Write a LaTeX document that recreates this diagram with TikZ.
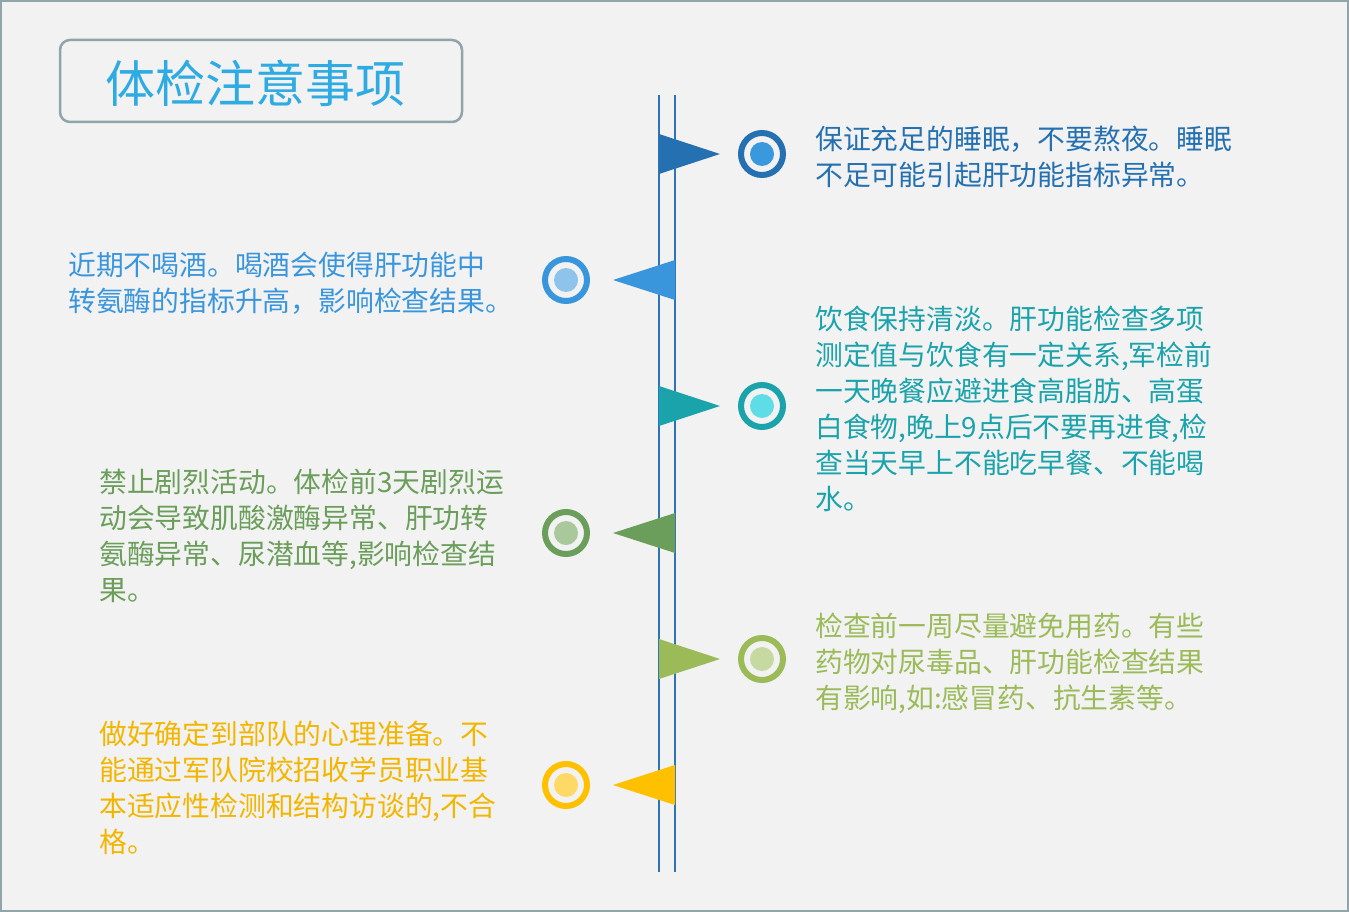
\documentclass[tikz,border=0pt]{standalone}
\usepackage{fontspec}
\setmainfont{Noto Sans CJK SC}
\begin{document}
\begin{tikzpicture}[x=1pt,y=-1pt,
  txt/.style={anchor=north west,inner sep=0pt,align=left,font=\fontsize{27.8}{36}\selectfont},
  ring/.style={circle,draw=#1,line width=6pt,minimum size=42pt,inner sep=0pt},
  dot/.style={circle,minimum size=24pt,inner sep=0pt}]
\definecolor{bg}{HTML}{F2F2F2}
\definecolor{frame}{HTML}{8FA5AA}
\definecolor{cA}{HTML}{2470B0}\definecolor{cAi}{HTML}{3A98DC}
\definecolor{cB}{HTML}{3A96DC}\definecolor{cBi}{HTML}{8EC3EC}
\definecolor{cC}{HTML}{1AA3AB}\definecolor{cCi}{HTML}{5EDDE6}
\definecolor{cD}{HTML}{6A9E5A}\definecolor{cDi}{HTML}{A9C89C}
\definecolor{cE}{HTML}{9BBB59}\definecolor{cEi}{HTML}{C6D9A0}
\definecolor{cF}{HTML}{FFC000}\definecolor{cFi}{HTML}{FFD966}
\definecolor{lineblue}{HTML}{2E75B6}
\useasboundingbox (0,0) rectangle (1349,912);
\fill[bg] (0,0) rectangle (1349,912);
\draw[frame,line width=1.5pt] (1,1) rectangle (1348,911);
\draw[frame,line width=2.5pt,rounded corners=10pt,fill=bg] (60,40) rectangle (462,122);
\node[inner sep=0pt,font=\fontsize{50}{50}\selectfont,text=cB!80!cyan] (title) at (255,83) {体检注意事项};
\coordinate (l1t) at (659,95); \coordinate (l1b) at (659,872);
\coordinate (l2t) at (675,95); \coordinate (l2b) at (675,872);
\draw[lineblue,line width=1.5pt] (l1t) -- (l1b) (l2t) -- (l2b);
\foreach \y/\c in {154/cA,406/cC,659/cE}{
  \fill[\c] (659,\y-20) -- (720,\y) -- (659,\y+20) -- cycle;}
\foreach \y/\c in {280/cB,533/cD,785/cF}{
  \fill[\c] (675,\y-20) -- (613,\y) -- (675,\y+20) -- cycle;}
\foreach \n/\x/\y/\c in {a/762/154/cA,b/566/280/cB,c/762/406/cC,d/566/533/cD,e/762/659/cE,f/566/785/cF}{
  \node[ring=\c,fill=bg] (r\n) at (\x,\y) {};
  \node[dot,fill=\c i] (d\n) at (\x,\y) {};}
\node[txt,text=cA] (ta) at (815,126) {保证充足的睡眠，不要熬夜。睡眠\\不足可能引起肝功能指标异常。};
\node[txt,text=cB] (tb) at (68,252) {近期不喝酒。喝酒会使得肝功能中\\转氨酶的指标升高，影响检查结果。};
\node[txt,text=cC] (tc) at (815,306) {饮食保持清淡。肝功能检查多项\\测定值与饮食有一定关系,军检前\\一天晚餐应避进食高脂肪、高蛋\\白食物,晚上9点后不要再进食,检\\查当天早上不能吃早餐、不能喝\\水。};
\node[txt,text=cD] (td) at (99,469) {禁止剧烈活动。体检前3天剧烈运\\动会导致肌酸激酶异常、肝功转\\氨酶异常、尿潜血等,影响检查结\\果。};
\node[txt,text=cE] (te) at (815,613) {检查前一周尽量避免用药。有些\\药物对尿毒品、肝功能检查结果\\有影响,如:感冒药、抗生素等。};
\node[txt,text=cF!95!black] (tf) at (99,721) {做好确定到部队的心理准备。不\\能通过军队院校招收学员职业基\\本适应性检测和结构访谈的,不合\\格。};
\end{tikzpicture}
\end{document}
